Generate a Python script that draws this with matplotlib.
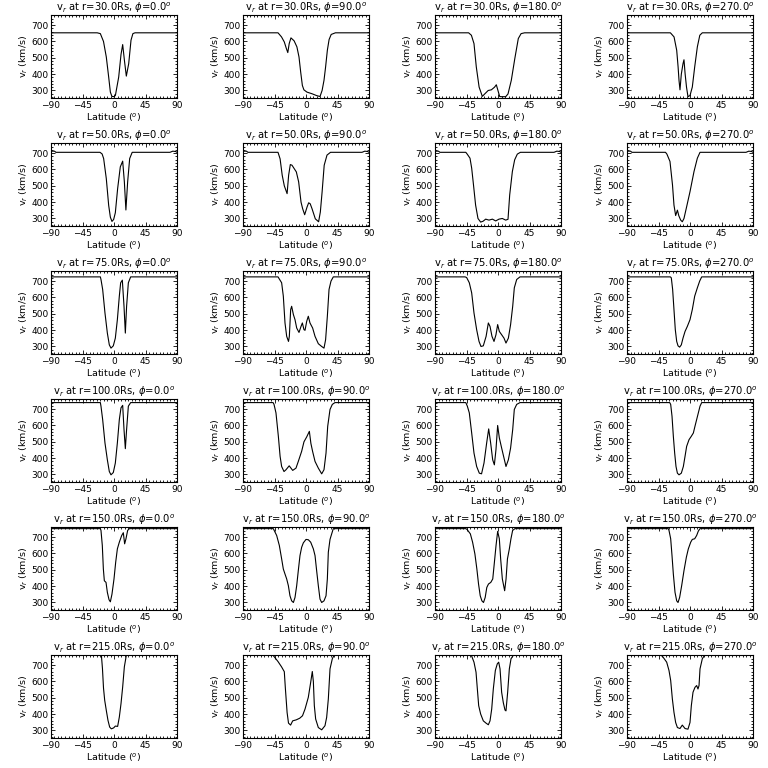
import matplotlib
matplotlib.use('Agg')
import matplotlib.pyplot as plt
from matplotlib.ticker import MultipleLocator

radii = [30.0, 50.0, 75.0, 100.0, 150.0, 215.0]
phis = [0.0, 90.0, 180.0, 270.0]
xticks = [-90, -45, 0, 45, 90]
yticks = [300, 400, 500, 600, 700]

# ---- r = 30 Rs ----
lat_r30_p0 = [-90, -24, -19.5, -15, -11, -7.6, -5.2, -3, 0, 2, 6.7, 10, 12.4, 15, 17.6, 21, 24.3, 27, 30, 90]
v_r30_p0 = [653, 653, 648, 600, 505, 382, 290, 264, 262, 270, 382, 520, 581, 480, 388, 464, 608, 648, 653, 653]
lat_r30_p90 = [-90, -40, -35, -31, -28, -26, -24, -21.5, -17, -13, -10, -7.6, -5.2, -3, 1.4, 8.6, 15, 20, 23, 25.7, 28, 30.5, 33, 36, 42, 90]
v_r30_p90 = [653, 653, 628, 597, 556, 532, 587, 622, 604, 567, 505, 413, 331, 304, 290, 280, 269, 263, 300, 362, 444, 546, 612, 643, 653, 653]
lat_r30_p180 = [-90, -42, -38, -34.3, -31, -27, -22.4, -18, -14, -9.5, -5, -2.4, 2.4, 5, 11, 14.3, 19, 24, 29, 33, 38, 90]
v_r30_p180 = [653, 653, 638, 587, 444, 321, 264, 283, 300, 304, 320, 335, 263, 262, 262, 279, 362, 495, 618, 648, 653, 653]
lat_r30_p270 = [-90, -28, -22.8, -19, -17, -15.7, -14.3, -12.4, -10, -8.6, -7, -5, -2.9, 0, 3.3, 6.7, 10.5, 14, 17.6, 90]
v_r30_p270 = [653, 653, 628, 546, 444, 362, 304, 400, 464, 488, 403, 321, 262, 269, 321, 444, 567, 638, 653, 653]

# ---- r = 50 Rs ----
lat_r50_p0 = [-90, -85, -83, -20, -17, -14.8, -11, -7.6, -5.2, -2.9, -0.5, 1.9, 5.2, 9, 12.4, 14.8, 17, 19.5, 22.4, 26, 80, 84, 88, 90]
v_r50_p0 = [712, 712, 705, 705, 695, 667, 544, 380, 308, 282, 294, 335, 483, 616, 651, 524, 352, 524, 667, 705, 705, 712, 710, 705]
lat_r50_p90 = [-90, -85, -83, -40, -37, -34, -31, -27, -24.8, -22.4, -20, -13.8, -10.5, -7.1, -4.8, -1.9, 1.5, 3.8, 6, 8.6, 13.3, 18, 20.5, 23, 26, 30, 35, 80, 84, 88, 90]
v_r50_p90 = [712, 712, 705, 705, 665, 565, 500, 452, 565, 630, 626, 585, 524, 400, 360, 323, 370, 396, 390, 360, 298, 280, 340, 462, 626, 688, 705, 705, 712, 710, 705]
lat_r50_p180 = [-90, -85, -83, -46, -44, -40, -37.6, -35, -32, -28.6, -24.8, -21.4, -17.6, -12.9, -8, -3.3, 1.4, 6.2, 11, 14.3, 16.7, 20.5, 23.8, 27.6, 32, 80, 84, 88, 90]
v_r50_p180 = [712, 712, 705, 705, 694, 669, 608, 505, 382, 300, 278, 283, 296, 290, 296, 285, 296, 300, 290, 295, 444, 587, 659, 694, 705, 705, 712, 710, 705]
lat_r50_p270 = [-90, -85, -83, -35, -33, -28.6, -25, -22.9, -20.5, -18, -16, -13.3, -11, -8.6, -4.8, 0, 5.7, 10.5, 14.3, 80, 84, 88, 90]
v_r50_p270 = [712, 712, 705, 705, 694, 649, 505, 382, 318, 351, 317, 290, 280, 300, 372, 464, 587, 669, 705, 705, 712, 710, 705]

# ---- r = 75 Rs ----
lat_r75_p0 = [-90, -19.5, -18.6, -16.2, -12.9, -9.5, -6.7, -4.3, -1, 1.9, 4.8, 7.6, 9.5, 11.9, 14.3, 16.2, 18, 20.5, 23.8, 90]
v_r75_p0 = [726, 726, 710, 649, 505, 382, 310, 290, 304, 351, 464, 608, 690, 706, 546, 382, 546, 690, 726, 726]
lat_r75_p90 = [-90, -40, -34.8, -32.4, -30, -27.6, -25, -23.8, -21.9, -20.5, -18, -15.7, -13.3, -10, -7.1, -5.2, -2.9, -1.4, 1, 3.3, 5.7, 9.5, 12.9, 17.6, 22.4, 25.7, 28, 30.5, 32.9, 35.7, 39, 90]
v_r75_p90 = [726, 726, 690, 608, 444, 362, 331, 362, 526, 546, 495, 464, 413, 386, 423, 444, 403, 399, 454, 485, 444, 413, 362, 317, 300, 290, 341, 485, 649, 700, 726, 726]
lat_r75_p180 = [-90, -47, -44.8, -41, -37.6, -34.3, -30.5, -27.1, -24.3, -21, -17, -13.8, -11.4, -8.6, -5.7, -2.9, -0.5, 1.9, 5.2, 8.6, 11.4, 14.8, 18, 21, 23.3, 26.7, 31.4, 90]
v_r75_p180 = [726, 726, 722, 690, 628, 505, 403, 331, 300, 304, 362, 444, 423, 362, 331, 372, 434, 392, 372, 351, 321, 351, 434, 546, 659, 710, 726, 726]
lat_r75_p270 = [-90, -28, -26.7, -24.8, -22.9, -21, -19, -17.1, -14.8, -12.4, -10, -7.1, -3.8, 0, 3.3, 6.7, 10.5, 13.8, 16.7, 90]
v_r75_p270 = [726, 726, 720, 649, 526, 403, 331, 304, 296, 310, 351, 392, 423, 464, 526, 608, 659, 700, 726, 726]

# ---- r = 100 Rs ----
lat_r100_p0 = [-90, -19.5, -18.6, -16.2, -12.9, -9.5, -6.7, -4.3, -1, 1.9, 4.8, 7.6, 10, 12.4, 14.3, 16.2, 18, 20.5, 23.8, 90]
v_r100_p0 = [740, 740, 718, 636, 493, 390, 318, 298, 312, 370, 493, 636, 708, 723, 575, 458, 575, 718, 740, 740]
lat_r100_p90 = [-90, -47, -45.7, -42.9, -39.5, -37, -34.8, -31.4, -28.6, -24, -19, -14.3, -11, -6.2, -2.9, 1, 4.8, 7, 9.5, 12.9, 17.6, 22.4, 25.7, 28.6, 31, 34.3, 37.6, 41.4, 90]
v_r100_p90 = [740, 740, 729, 677, 534, 411, 349, 318, 329, 353, 325, 339, 380, 442, 500, 530, 564, 490, 440, 380, 339, 304, 329, 431, 595, 698, 729, 740, 740]
lat_r100_p180 = [-90, -46, -43.8, -41, -37.6, -34.3, -30.5, -26.7, -23.5, -20, -16.2, -13.3, -10.5, -7.6, -5.2, -2.9, -0.5, 1.9, 5.2, 8.6, 11.4, 14.8, 18, 21, 23.3, 26.7, 31.4, 90]
v_r100_p180 = [740, 740, 718, 677, 554, 431, 349, 308, 304, 370, 493, 579, 493, 390, 359, 452, 600, 524, 462, 400, 349, 390, 462, 575, 698, 729, 740, 740]
lat_r100_p270 = [-90, -29, -27.6, -25.7, -23.8, -21.9, -20, -18, -15.7, -12.4, -9.5, -7.1, -4.8, -1.4, 1.9, 4.8, 7.1, 9.5, 11.9, 14.3, 16.7, 90]
v_r100_p270 = [740, 740, 729, 657, 534, 431, 349, 308, 298, 308, 349, 411, 472, 513, 534, 554, 595, 636, 677, 718, 740, 740]

# ---- r = 150 Rs ----
lat_r150_p0 = [-90, -19.5, -18.6, -16.7, -15.2, -13.8, -11.4, -9.5, -7.1, -5.2, -2.9, 0, 2.4, 4.8, 7.6, 11, 13.3, 15.2, 17.1, 19.5, 21.9, 90]
v_r150_p0 = [752, 752, 741, 649, 505, 433, 423, 362, 317, 304, 351, 444, 546, 628, 669, 710, 727, 659, 690, 741, 752, 752]
lat_r150_p90 = [-90, -46.7, -41.9, -38.1, -34.8, -32.4, -30, -27.6, -25.2, -22.9, -20.5, -18, -15.7, -13.3, -11, -8.6, -6.2, -3.8, 0, 3.3, 6.7, 10.5, 12.9, 15.2, 17.6, 20, 22.4, 25.7, 28.6, 30.5, 31.9, 34.3, 36.7, 39, 90]
v_r150_p90 = [752, 752, 710, 649, 567, 505, 474, 444, 403, 341, 310, 300, 331, 403, 495, 587, 638, 665, 686, 684, 669, 628, 587, 495, 403, 321, 300, 310, 341, 444, 608, 686, 720, 752, 752]
lat_r150_p180 = [-90, -46, -44.2, -39.5, -36.3, -33, -30.2, -27.8, -25.4, -23, -20.7, -18.3, -16, -13.6, -10.3, -7.5, -5.6, -2.8, -0.5, 1.9, 3.8, 6.2, 9.5, 11.5, 13.5, 16.2, 18.5, 20.9, 24.2, 90]
v_r150_p180 = [752, 752, 747, 720, 669, 597, 505, 413, 341, 310, 300, 331, 392, 413, 423, 444, 526, 649, 735, 690, 567, 444, 372, 444, 567, 628, 690, 741, 752, 752]
lat_r150_p270 = [-90, -31, -30, -27.6, -25.7, -23.8, -21.4, -19, -17.1, -14.8, -11.9, -8.6, -5.2, -2.4, 1, 3.3, 6.7, 9.5, 11.9, 14.3, 90]
v_r150_p270 = [752, 752, 741, 690, 587, 474, 362, 310, 300, 331, 403, 495, 577, 628, 669, 686, 690, 710, 737, 752, 752]

# ---- r = 215 Rs ----
lat_r215_p0 = [-90, -18, -16.5, -15, -13.3, -11, -8.6, -6.2, -3.8, -0.5, 1.9, 5.2, 7.6, 10, 12.4, 14.8, 17.6, 90]
v_r215_p0 = [760, 760, 680, 560, 485, 423, 362, 321, 310, 316, 327, 325, 382, 464, 567, 690, 760, 760]
lat_r215_p90 = [-90, -47, -40, -35, -31, -29.5, -27, -25, -22, -19, -14, -9, -5, -1.4, 3.3, 6.7, 9, 10.5, 11.9, 13.8, 17.6, 22.4, 27.1, 29.5, 31.9, 34.3, 37.6, 40, 90]
v_r215_p90 = [760, 760, 722, 690, 660, 560, 410, 345, 333, 359, 365, 375, 390, 431, 503, 595, 661, 600, 452, 370, 318, 304, 329, 380, 493, 677, 739, 760, 760]
lat_r215_p180 = [-90, -38, -37.6, -34.3, -31.4, -29.5, -27.6, -24.8, -21, -17.1, -13.8, -11.4, -9, -6.7, -3.8, -1, 1, 2.9, 5.2, 7.6, 10, 11.4, 13.8, 16.2, 18.6, 21.9, 90]
v_r215_p180 = [760, 760, 755, 718, 657, 554, 452, 401, 359, 345, 335, 359, 431, 554, 667, 708, 718, 677, 534, 470, 425, 420, 534, 677, 739, 760, 760]
lat_r215_p270 = [-90, -42, -39.5, -33.3, -30, -27.6, -25.2, -22.9, -20.5, -18, -14.3, -11, -7.1, -2.9, 0, 1.9, 4.3, 7.1, 9.5, 11.4, 12.9, 14.3, 17.6, 20, 22, 90]
v_r215_p270 = [760, 760, 755, 718, 667, 606, 493, 411, 349, 318, 312, 333, 312, 308, 349, 452, 534, 564, 575, 554, 575, 677, 739, 755, 760, 760]

curves = [
    [(lat_r30_p0, v_r30_p0), (lat_r30_p90, v_r30_p90), (lat_r30_p180, v_r30_p180), (lat_r30_p270, v_r30_p270)],
    [(lat_r50_p0, v_r50_p0), (lat_r50_p90, v_r50_p90), (lat_r50_p180, v_r50_p180), (lat_r50_p270, v_r50_p270)],
    [(lat_r75_p0, v_r75_p0), (lat_r75_p90, v_r75_p90), (lat_r75_p180, v_r75_p180), (lat_r75_p270, v_r75_p270)],
    [(lat_r100_p0, v_r100_p0), (lat_r100_p90, v_r100_p90), (lat_r100_p180, v_r100_p180), (lat_r100_p270, v_r100_p270)],
    [(lat_r150_p0, v_r150_p0), (lat_r150_p90, v_r150_p90), (lat_r150_p180, v_r150_p180), (lat_r150_p270, v_r150_p270)],
    [(lat_r215_p0, v_r215_p0), (lat_r215_p90, v_r215_p90), (lat_r215_p180, v_r215_p180), (lat_r215_p270, v_r215_p270)],
]

W = H = 768
fig = plt.figure(figsize=(7.68, 7.68), dpi=100)
fs = 6.5
for ri, r in enumerate(radii):
    for pi, p in enumerate(phis):
        left = (51 + 192 * pi) / W
        bottom = 1 - (98 + 128 * ri) / H
        ax = fig.add_axes([left, bottom, 126 / W, 83 / H])
        lat, v = curves[ri][pi]
        ax.plot(lat, v, color='black', lw=0.8)
        ax.set_xlim(-90, 90)
        ax.set_ylim(254, 762)
        ax.set_xticks(xticks)
        ax.set_yticks(yticks)
        ax.xaxis.set_minor_locator(MultipleLocator(5))
        ax.yaxis.set_minor_locator(MultipleLocator(20))
        ax.tick_params(which='both', direction='in', top=True, right=True,
                       labelsize=fs, width=0.6, pad=2)
        ax.tick_params(which='major', length=3)
        ax.tick_params(which='minor', length=1.5)
        for s in ax.spines.values():
            s.set_linewidth(0.8)
        ax.set_title(f'v$_r$ at r={r:.1f}Rs, $\\phi$={p:.1f}$^o$', fontsize=7.2, pad=1.5)
        ax.set_xlabel('Latitude ($^o$)', fontsize=6.8, labelpad=1)
        ax.set_ylabel('v$_r$ (km/s)', fontsize=6.8, labelpad=1)

fig.savefig('out.png', dpi=100, facecolor='white')
